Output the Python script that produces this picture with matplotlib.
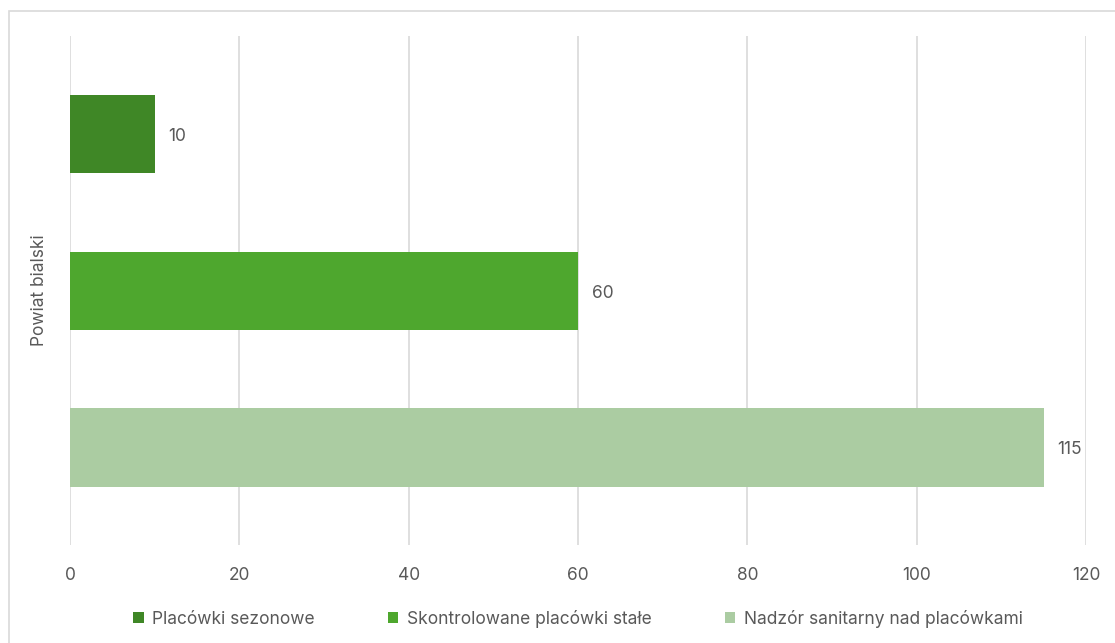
import matplotlib.pyplot as plt
from matplotlib.patches import Rectangle

plt.rcParams['font.family'] = ['Inter', 'DejaVu Sans']

category = "Powiat bialski"
series = ["Placówki sezonowe", "Skontrolowane placówki stałe", "Nadzór sanitarny nad placówkami"]
values = [10, 60, 115]
colors = ["#3F8726", "#4EA72E", "#ABCCA2"]
xticks = [0, 20, 40, 60, 80, 100, 120]

txt = "#595959"
grid = "#D9D9D9"
fs = 12.5

fig = plt.figure(figsize=(11.15, 6.43), dpi=100)
ax = fig.add_axes([0.0628, 0.1524, 0.9112, 0.7916])

# chart frame
fig.patches.append(Rectangle((9 / 1115, -0.1), 1.2, 1 - 11 / 643 + 0.1,
                             transform=fig.transFigure, fill=False,
                             edgecolor=grid, linewidth=1.2))

pos = list(range(len(values)))
bars = ax.barh(pos, values, height=0.5, color=colors, zorder=3)
for p, v in zip(pos, values):
    ax.text(v + 1.6, p + 0.015, str(v), va="center", ha="left", fontsize=fs, color=txt)

ax.set_xlim(0, 120)
ax.set_ylim(2.622, -0.625)
ax.set_xticks(xticks)
ax.set_yticks([])
ax.tick_params(axis="x", length=0, labelsize=fs, labelcolor=txt, pad=16)
ax.grid(axis="x", color=grid, linewidth=1.2, zorder=0)
for s in ax.spines.values():
    s.set_visible(False)

ax.set_ylabel(category, fontsize=fs, color=txt, labelpad=16)

ax.legend(bars, series, loc="center", bbox_to_anchor=(0.5, -0.145),
          ncol=3, frameon=False, fontsize=fs, labelcolor=txt,
          handlelength=0.6, handleheight=0.6, handletextpad=0.5, columnspacing=4.2)

plt.savefig("out.png", dpi=100)
